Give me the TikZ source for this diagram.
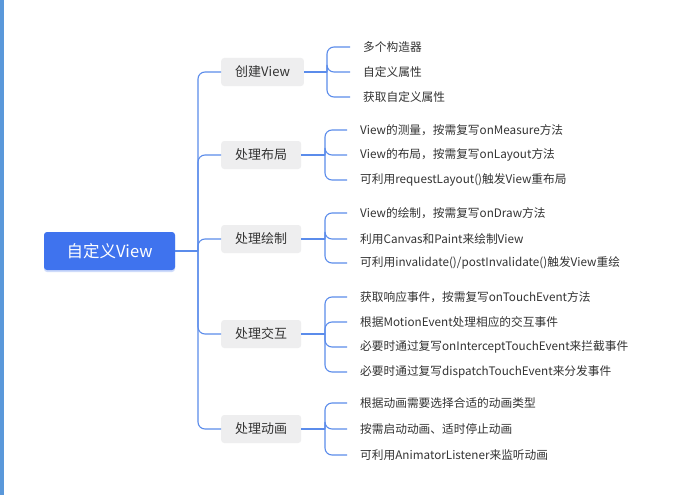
\documentclass[tikz,border=0pt]{standalone}
\usepackage{fontspec}
\setmainfont{Noto Sans CJK SC}
\usetikzlibrary{shadows}

\definecolor{rootblue}{HTML}{3F73EE}
\definecolor{linkblue}{HTML}{5B8CEB}
\definecolor{topicgray}{HTML}{EEEEEF}
\definecolor{textgray}{HTML}{333333}
\definecolor{edgeblue}{HTML}{5A98DA}

\tikzstyle{root}=[rectangle,rounded corners=3pt,fill=rootblue,text=white,minimum width=131pt,minimum height=38pt,font=\fontsize{16.5}{18}\selectfont,drop shadow={opacity=0.25,fill=rootblue,shadow xshift=0pt,shadow yshift=-2pt}]
\tikzstyle{topic}=[rectangle,rounded corners=3pt,fill=topicgray,text=textgray,minimum height=28pt,inner xsep=14pt,font=\fontsize{13}{15}\selectfont,anchor=west]
\tikzstyle{leaf}=[inner xsep=0pt,text=textgray,font=\fontsize{11.7}{14}\selectfont,anchor=west]
\tikzstyle{link}=[draw,linkblue,line width=1.1pt,rounded corners=7pt]

\begin{document}
\begin{tikzpicture}[x=1pt,y=-1pt]
			\useasboundingbox (0,0) rectangle (682,495);
			\fill[white] (0,0) rectangle (682,495);
			\fill[edgeblue] (0,0) rectangle (4,495);
			% centre and first level
			\node[root] (root) at (109.5,251) {自定义View};
			\node[topic] (t1) at (221,72) {创建View};
			\node[topic] (t2) at (221,155) {处理布局};
			\node[topic] (t3) at (221,239) {处理绘制};
			\node[topic] (t4) at (221,334) {处理交互};
			\node[topic] (t5) at (221,429) {处理动画};
			% leaves
			\node[leaf] (a1) at (363,47) {多个构造器};
			\node[leaf] (a2) at (363,72) {自定义属性};
			\node[leaf] (a3) at (363,97) {获取自定义属性};
			\node[leaf] (b1) at (360,130) {View的测量，按需复写onMeasure方法};
			\node[leaf] (b2) at (360,155) {View的布局，按需复写onLayout方法};
			\node[leaf] (b3) at (360,180) {可利用requestLayout()触发View重布局};
			\node[leaf] (c1) at (360,213) {View的绘制，按需复写onDraw方法};
			\node[leaf] (c2) at (360,239) {利用Canvas和Paint来绘制View};
			\node[leaf] (c3) at (360,263) {可利用invalidate()/postInvalidate()触发View重绘};
			\node[leaf] (d1) at (360,297) {获取响应事件，按需复写onTouchEvent方法};
			\node[leaf] (d2) at (360,322) {根据MotionEvent处理相应的交互事件};
			\node[leaf] (d3) at (360,347) {必要时通过复写onInterceptTouchEvent来拦截事件};
			\node[leaf] (d4) at (360,372) {必要时通过复写dispatchTouchEvent来分发事件};
			\node[leaf] (e1) at (360,403) {根据动画需要选择合适的动画类型};
			\node[leaf] (e2) at (360,429) {按需启动动画、适时停止动画};
			\node[leaf] (e3) at (360,455) {可利用AnimatorListener来监听动画};
			% junction points
			\coordinate (trunk) at (198,251);
			\coordinate (ja) at (327,72);
			\coordinate (jb) at (325,155);
			\coordinate (jc) at (325,239);
			\coordinate (jd) at (325,334);
			\coordinate (je) at (325,429);
			% connect everything
			\path[link] (root.east) -- (trunk);
			\foreach \dest in {t1,t2,t3,t4,t5}
				\path[link] (trunk) |- (\dest.west);
			\foreach \source/\junc in {t1/ja,t2/jb,t3/jc,t4/jd,t5/je}
				\path[link] (\source.east) -- (\junc);
			\foreach \junc/\dest in {ja/a1,ja/a2,ja/a3,jb/b1,jb/b2,jb/b3,jc/c1,jc/c2,jc/c3,jd/d1,jd/d2,jd/d3,jd/d4,je/e1,je/e2,je/e3}
				\path[link] (\junc) |- ([xshift=-13pt]\dest.west);
\end{tikzpicture}
\end{document}
